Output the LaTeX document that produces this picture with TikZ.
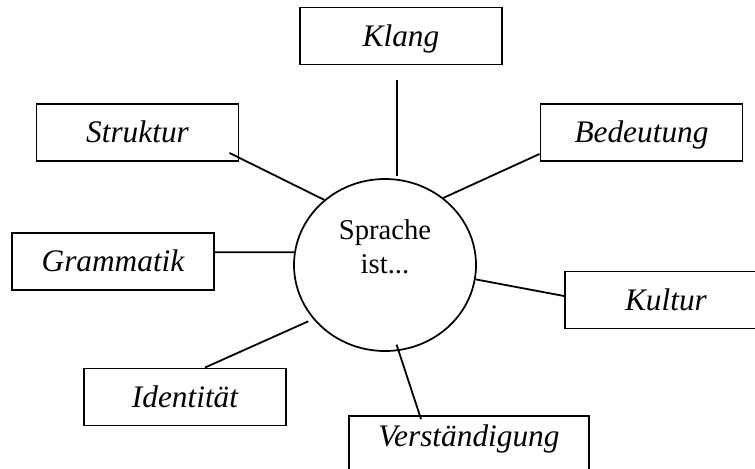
\documentclass[tikz,border=0pt]{standalone}
\usepackage{fontspec}
\setmainfont{Liberation Serif}
\usetikzlibrary{shapes.geometric}

\begin{document}
\begin{tikzpicture}[x=0.75pt,y=0.75pt,yscale=-1,xscale=1,
  wordbox/.style={draw,line width=1.45pt,rectangle,inner sep=0pt,minimum width=151.5pt,minimum height=42.75pt,
    font=\fontsize{23.5}{28}\selectfont\itshape,text height=18pt,text depth=2.44pt},
  hub/.style={draw,line width=1.3pt,ellipse,inner sep=0pt,minimum width=136.5pt,minimum height=129pt,
    align=center,font=\fontsize{21.5}{25.5}\selectfont,text height=30pt,text depth=18pt},
  spoke/.style={line width=1.35pt}]
%set diagram to 755 x 468, boxes at the right and bottom run off the page
\useasboundingbox (0,0) rectangle (755,468);
\clip (0,0) rectangle (755,468);

% centre
\node [hub] (spr) at (385,265) {Sprache\\ist...};

% Text Nodes
\node [wordbox] (klang) at (401,36) {Klang};
\node [wordbox] (struk) at (137.5,132.5) {Struktur};
\node [wordbox] (bed) at (641.5,132.5) {Bedeutung};
\node [wordbox] (gram) at (113,261.5) {Grammatik};
\node [wordbox] (kult) at (666,300) {Kultur};
\node [wordbox] (ident) at (185,397) {Identität};
\node [wordbox,minimum width=180pt,minimum height=43.5pt,text height=16pt,text depth=13.2pt] (verst) at (469,445) {Verständigung};

% Straight Lines (yshift runs downwards here, yscale=-1)
\draw [spoke,shorten >=11.25pt,shorten <=2.25pt] (spr.82) -- (spr.82 |- klang.south) ;
\draw [spoke] (spr.133) -- ([xshift=-7.5pt,yshift=-6.75pt]struk.south east) ;
\draw [spoke] (spr.49) -- ([yshift=-6pt]bed.south west) ;
\draw [spoke] (spr.172) -- ([yshift=-7pt]gram.east) ;
\draw [spoke] (spr.-9) -- ([yshift=-3pt]kult.west) ;
\draw [spoke,shorten <=4pt] (spr.217) -- ([xshift=15pt]ident.north) ;
\draw [spoke,shorten <=-5pt] (spr.-81) -- ([xshift=-36pt,yshift=3pt]verst.north) ;
\end{tikzpicture}
\end{document}
